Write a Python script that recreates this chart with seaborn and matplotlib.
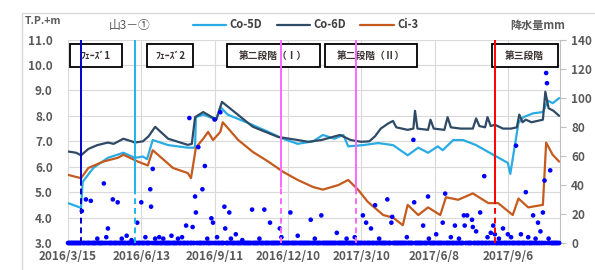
import matplotlib
matplotlib.use('Agg')
import matplotlib.pyplot as plt
from matplotlib.patches import Rectangle
from matplotlib.lines import Line2D
import seaborn as sns
import pandas as pd

# ---- water level series (T.P.+m) ----
co5d_dates = ['2016-03-15', '2016-03-31', '2016-04-02', '2016-04-15', '2016-05-03', '2016-05-22',
              '2016-06-05', '2016-06-15', '2016-06-20', '2016-06-27', '2016-07-16', '2016-08-09',
              '2016-08-18', '2016-08-19', '2016-08-28', '2016-09-13', '2016-09-18', '2016-09-27',
              '2016-10-22', '2016-11-16', '2016-12-04', '2016-12-22', '2017-01-10', '2017-01-22',
              '2017-02-05', '2017-02-16', '2017-02-22', '2017-03-12', '2017-03-31', '2017-04-18',
              '2017-05-06', '2017-05-19', '2017-05-31', '2017-06-12', '2017-06-18', '2017-07-01',
              '2017-07-13', '2017-07-29', '2017-08-19', '2017-09-06', '2017-09-09', '2017-09-19',
              '2017-09-25', '2017-10-07', '2017-10-19', '2017-10-25', '2017-10-31', '2017-11-08']
co5d_vals = [4.57, 4.38, 5.40, 5.95, 6.35, 6.55,
             6.35, 6.40, 6.30, 7.05, 6.85, 6.75,
             6.75, 7.95, 8.05, 7.85, 8.35, 8.05,
             7.72, 7.37, 7.10, 6.90, 7.00, 7.25,
             7.10, 7.25, 6.80, 6.85, 6.93, 6.85,
             6.45, 6.75, 6.55, 6.80, 6.65, 7.05,
             7.05, 6.85, 6.47, 6.15, 5.72, 7.72,
             7.95, 8.10, 8.15, 8.60, 8.50, 8.70]

co6d_dates = ['2016-03-15', '2016-03-25', '2016-03-31', '2016-04-09', '2016-04-20', '2016-05-03',
              '2016-05-10', '2016-05-22', '2016-06-01', '2016-06-05', '2016-06-15', '2016-06-22',
              '2016-06-30', '2016-07-16', '2016-08-09', '2016-08-14', '2016-08-18', '2016-08-28',
              '2016-09-13', '2016-09-20', '2016-10-28', '2016-11-28', '2016-12-22', '2017-01-04',
              '2017-01-20', '2017-02-12', '2017-02-25', '2017-03-10', '2017-03-20', '2017-03-27',
              '2017-04-03', '2017-04-12', '2017-04-18', '2017-04-22', '2017-05-06', '2017-05-13',
              '2017-05-15', '2017-05-18', '2017-05-31', '2017-06-03', '2017-06-07', '2017-06-20',
              '2017-06-24', '2017-06-28', '2017-07-10', '2017-07-25', '2017-07-29', '2017-08-02',
              '2017-08-09', '2017-08-12', '2017-08-16', '2017-08-21', '2017-08-31', '2017-09-10',
              '2017-09-17', '2017-09-20', '2017-09-24', '2017-09-28', '2017-10-05', '2017-10-19',
              '2017-10-22', '2017-10-26', '2017-11-01', '2017-11-08']
co6d_vals = [6.60, 6.55, 6.45, 6.70, 6.85, 6.95,
             6.90, 7.10, 7.00, 6.95, 7.00, 7.20,
             7.57, 7.10, 6.86, 6.90, 7.95, 8.15,
             7.85, 8.55, 7.57, 7.17, 7.05, 6.98,
             7.05, 7.25, 7.05, 6.98, 7.00, 7.20,
             7.50, 7.70, 7.80, 7.55, 7.45, 7.50,
             8.20, 7.50, 7.45, 7.85, 7.50, 7.45,
             7.95, 7.55, 7.50, 7.50, 7.90, 7.60,
             7.55, 7.95, 7.60, 7.65, 7.50, 7.50,
             7.55, 8.05, 7.75, 7.85, 7.75, 7.85,
             8.95, 8.30, 8.20, 8.00]

ci3_dates = ['2016-03-15', '2016-03-31', '2016-04-09', '2016-04-27', '2016-05-15', '2016-05-22',
             '2016-06-09', '2016-06-21', '2016-06-27', '2016-07-22', '2016-08-09', '2016-08-13',
             '2016-08-19', '2016-08-28', '2016-09-03', '2016-09-09', '2016-09-18', '2016-09-21',
             '2016-10-10', '2016-10-28', '2016-11-16', '2016-12-04', '2016-12-22', '2017-01-10',
             '2017-01-22', '2017-02-10', '2017-02-22', '2017-03-06', '2017-03-18', '2017-04-06',
             '2017-04-18', '2017-04-30', '2017-05-06', '2017-05-19', '2017-05-31', '2017-06-15',
             '2017-06-22', '2017-07-07', '2017-07-25', '2017-08-13', '2017-08-25', '2017-09-12',
             '2017-09-19', '2017-10-01', '2017-10-19', '2017-10-23', '2017-10-31', '2017-11-08']
ci3_vals = [5.68, 5.55, 5.95, 6.20, 6.35, 6.47,
            6.20, 6.05, 6.65, 5.95, 5.75, 5.55,
            6.75, 7.10, 7.37, 7.05, 7.37, 7.75,
            7.05, 6.58, 6.20, 5.80, 5.48, 5.20,
            5.10, 5.28, 5.48, 5.10, 4.62, 4.10,
            4.00, 3.70, 4.50, 4.10, 4.40, 4.10,
            4.80, 4.70, 4.95, 4.57, 4.57, 4.10,
            4.75, 4.40, 4.50, 6.95, 6.47, 6.20]

# ---- precipitation (mm), days not listed are 0 ----
rain_dates = ['2016-04-01', '2016-04-06', '2016-04-12', '2016-04-28', '2016-05-03', '2016-05-09',
              '2016-05-15', '2016-05-26', '2016-06-08', '2016-06-13', '2016-06-24', '2016-06-25',
              '2016-06-27', '2016-08-07', '2016-08-11', '2016-08-15', '2016-08-18', '2016-08-19',
              '2016-08-22', '2016-08-27', '2016-08-30', '2016-09-07', '2016-09-09', '2016-09-11',
              '2016-09-18', '2016-09-23', '2016-09-24', '2016-09-29', '2016-10-07', '2016-10-27',
              '2016-11-11', '2016-11-18', '2016-11-30', '2016-12-13', '2016-12-22', '2017-01-07',
              '2017-01-20', '2017-02-08', '2017-03-02', '2017-03-12', '2017-03-16', '2017-03-22',
              '2017-03-27', '2017-04-11', '2017-04-16', '2017-04-17', '2017-05-13', '2017-05-14',
              '2017-05-25', '2017-05-31', '2017-06-10', '2017-06-18', '2017-06-21', '2017-07-03',
              '2017-07-14', '2017-07-15', '2017-07-18', '2017-07-24', '2017-07-25', '2017-07-29',
              '2017-08-03', '2017-08-08', '2017-08-16', '2017-08-19', '2017-08-21', '2017-08-31',
              '2017-09-06', '2017-09-16', '2017-09-22', '2017-09-28', '2017-10-07', '2017-10-13',
              '2017-10-16', '2017-10-19', '2017-10-21', '2017-10-23', '2017-10-24', '2017-10-28',
              # small showers near the baseline
              '2016-04-20', '2016-05-01', '2016-05-20', '2016-06-01', '2016-06-18', '2016-06-30',
              '2016-07-05', '2016-07-10', '2016-07-20', '2016-07-28', '2016-08-02', '2016-09-02',
              '2016-09-14', '2016-10-01', '2016-10-15', '2016-11-05', '2016-12-02', '2017-01-12',
              '2017-02-20', '2017-04-01', '2017-05-05', '2017-06-01', '2017-06-28', '2017-07-08',
              '2017-08-12', '2017-08-26', '2017-09-10', '2017-10-01', '2017-10-10', '2017-10-26']
rain_mm = [22, 30, 29, 41, 10, 30, 28, 5, 14, 28, 37, 25,
           51, 12, 86, 11, 32, 21, 66, 37, 53, 17, 14, 85,
           90, 25, 10, 21, 6, 23, 23, 14, 10, 21, 5, 16,
           19, 7, 4, 19, 14, 10, 26, 30, 14, 18, 71, 28,
           12, 32, 6, 14, 34, 12, 19, 12, 19, 16, 11, 8,
           21, 46, 7, 12, 6, 10, 6, 67, 6, 35, 19, 14,
           8, 21, 43, 117, 110, 50,
           3, 4, 3, 2, 4, 3, 4, 3, 5, 3, 4, 3,
           4, 3, 2, 3, 4, 3, 3, 3, 4, 3, 4, 3,
           4, 3, 4, 4, 3, 3]

x_tick_labels = ['2016/3/15', '2016/6/13', '2016/9/11', '2016/12/10', '2017/3/10', '2017/6/8', '2017/9/6']

# phase markers: date, colour, level where the line turns dashed
phase_dates = ['2016-03-31', '2016-06-05', '2016-12-01', '2017-03-04', '2017-08-21']
phase_colors = ['#0000CC', '#1CB4EC', '#FF66FF', '#FF66FF', '#FF0000']
phase_split = [5.3, 5.1, 5.2, 5.1, 4.7]
box_labels = ['ﾌｪｰｽﾞ1', 'ﾌｪｰｽﾞ2', '第二段階（Ⅰ）', '第二段階（Ⅱ）', '第三段階']

series_names = ['Co-5D', 'Co-6D', 'Ci-3']
series_colors = ['#29ACE3', '#2F4A66', '#C55A1E']

# ---- build tables ----
frames = []
for name, d, v in [('Co-5D', co5d_dates, co5d_vals), ('Co-6D', co6d_dates, co6d_vals), ('Ci-3', ci3_dates, ci3_vals)]:
    frames.append(pd.DataFrame({'date': pd.to_datetime(d), 'level': v, 'series': name}))
levels = pd.concat(frames, ignore_index=True)

days = pd.date_range('2016-03-15', '2017-11-08', freq='D')
rain = pd.Series(0.0, index=days)
for d, v in zip(rain_dates, rain_mm):
    rain[pd.Timestamp(d)] = v
rain = rain.rename_axis('date').reset_index(name='mm')

sns.set_style('white')
plt.rcParams['font.family'] = ['Noto Sans CJK JP', 'DejaVu Sans']
grey = '#595959'

fig = plt.figure(figsize=(5.95, 2.70), dpi=100)
ax = fig.add_axes([68 / 595, 27 / 270, 492 / 595, 203.4 / 270])

sns.lineplot(data=levels, x='date', y='level', hue='series', hue_order=series_names,
             palette=series_colors, linewidth=1.6, ax=ax, legend=True)

ax.set_ylim(3, 11)
ax.set_yticks([3, 4, 5, 6, 7, 8, 9, 10, 11])
ax.set_yticklabels([f'{v:.1f}' for v in range(3, 12)])
x0, x1 = pd.Timestamp('2016-03-15'), pd.Timestamp('2017-11-09')
ax.set_xlim(x0, x1)
ax.set_xticks(pd.date_range('2016-03-15', periods=7, freq='90D'))
ax.set_xticklabels(x_tick_labels)
ax.set_xlabel('')
ax.set_ylabel('')
ax.grid(True, color='#d9d9d9', linewidth=0.8)
ax.set_axisbelow(True)
for s in ax.spines.values():
    s.set_visible(False)
ax.tick_params(axis='both', length=0, colors=grey, labelsize=8.5)
ax.tick_params(axis='y', pad=11)
ax.tick_params(axis='x', pad=5)
for t in ax.get_xticklabels() + ax.get_yticklabels():
    t.set_fontweight('bold')

ax.legend(loc='center left', bbox_to_anchor=(183 / 595, 1 - 25 / 270), bbox_transform=fig.transFigure,
          ncol=3, frameon=False, handlelength=3.0, columnspacing=1.3, handletextpad=0.3,
          prop={'size': 8, 'weight': 'bold'}, labelcolor='#404040')

ax2 = ax.twinx()
sns.scatterplot(data=rain, x='date', y='mm', color='#0000FF', s=11, edgecolor='none', ax=ax2,
                clip_on=False, zorder=3)
ax2.set_ylim(0, 140)
ax2.set_yticks(range(0, 141, 20))
ax2.set_ylabel('')
ax2.set_xlabel('')
ax2.set_xlim(x0, x1)
for k, s in ax2.spines.items():
    s.set_visible(k == 'right')
ax2.spines['right'].set_color('#bfbfbf')
ax2.tick_params(axis='y', length=4, color='#bfbfbf', colors=grey, labelsize=8.5, pad=4)
for t in ax2.get_yticklabels():
    t.set_fontweight('bold')

# phase text boxes (axes fraction)
box_x = [(0.004, 0.109), (0.161, 0.255), (0.323, 0.512), (0.522, 0.710), (0.862, 0.995)]
for (bx0, bx1), lab in zip(box_x, box_labels):
    ax2.add_patch(Rectangle((bx0, 0.865), bx1 - bx0, 0.113, transform=ax2.transAxes,
                            facecolor='white', edgecolor='black', linewidth=1.3, zorder=4))
    ax2.text((bx0 + bx1) / 2, 0.921, lab, transform=ax2.transAxes, ha='center', va='center',
             fontsize=7, fontweight='bold', color='#3a3030', zorder=5)

# phase vertical lines: solid upper part, dashed lower part
for d, c, sp in zip(phase_dates, phase_colors, phase_split):
    f = (sp - 3) / 8
    ax2.axvline(pd.Timestamp(d), ymin=f, ymax=1, color=c, linewidth=1.4, zorder=6)
    ax2.axvline(pd.Timestamp(d), ymin=0, ymax=f, color=c, linewidth=1.4, linestyle=(0, (3, 2)), zorder=6)

# titles and axis captions
fig.text(130 / 595, 1 - 25 / 270, '山3－①', ha='center', va='center', fontsize=8.5, color=grey)
fig.text(25 / 595, 1 - 21 / 270, 'T.P.+m', ha='left', va='center', fontsize=7.5, color=grey,
         fontweight='bold')
fig.text(510 / 595, 1 - 25 / 270, '降水量mm', ha='left', va='center', fontsize=8, color=grey,
         fontweight='bold')

# outer chart frame
fig.add_artist(Line2D([22 / 595, 22 / 595], [0, 1 - 13 / 270], transform=fig.transFigure,
                      color='#d9d9d9', linewidth=1))
fig.add_artist(Line2D([22 / 595, 1], [1 - 13 / 270, 1 - 13 / 270], transform=fig.transFigure,
                      color='#d9d9d9', linewidth=1))

fig.savefig('out.png', dpi=100)
